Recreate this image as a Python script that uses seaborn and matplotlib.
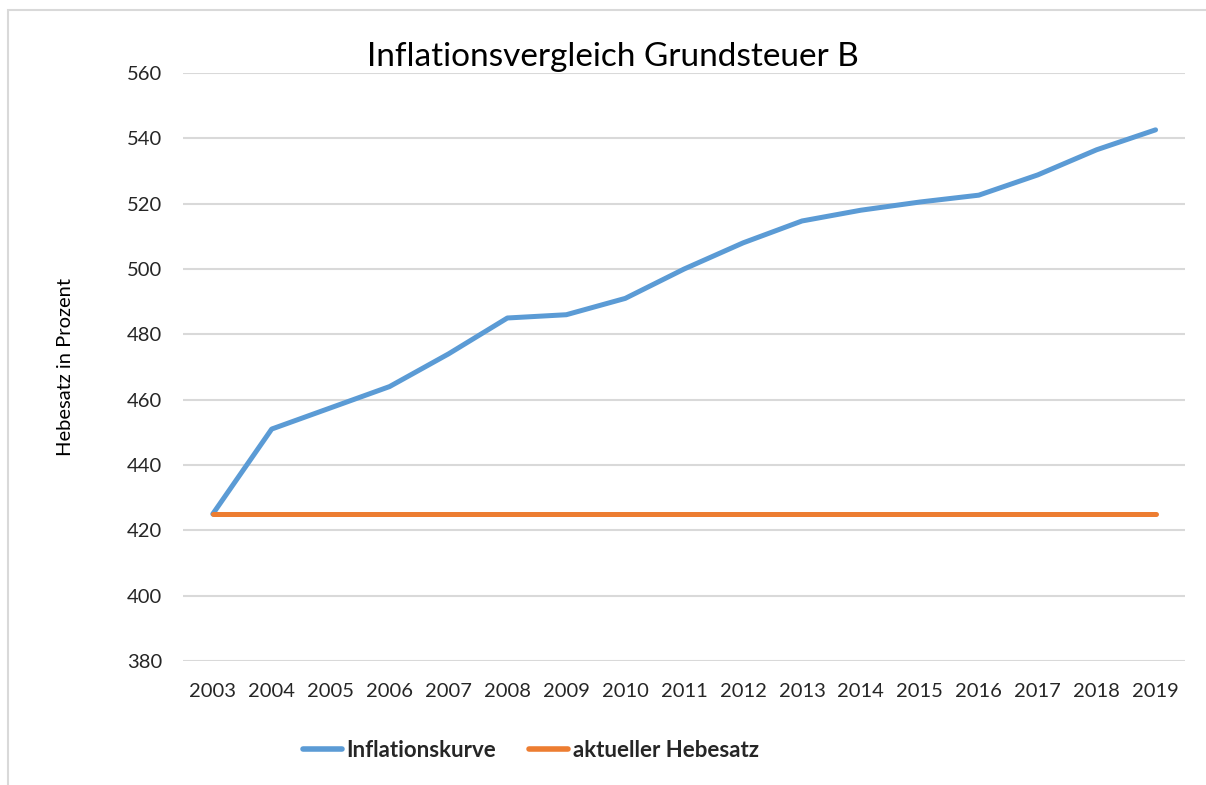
import pandas as pd
import numpy as np
import matplotlib
matplotlib.use("Agg")
import matplotlib.pyplot as plt
import seaborn as sns
from matplotlib.patches import Rectangle

years = list(range(2003, 2020))
inflation = [425, 451, 457.5, 464, 474, 485, 486, 491, 500, 508, 514.7, 518, 520.5, 522.6, 528.8, 536.5, 542.6]
current = [425] * 17
series_names = ['Inflationskurve', 'aktueller Hebesatz']

df = pd.DataFrame({
    'Jahr': list(range(17)) * 2,
    'Wert': inflation + current,
    'Reihe': [series_names[0]] * 17 + [series_names[1]] * 17,
})

sns.set_style("white")
plt.rcParams['font.family'] = ['Lato', 'DejaVu Sans']

fig = plt.figure(figsize=(12.06, 7.85), dpi=100)
ax = fig.add_axes([0.152, 0.158, 0.8306, 0.749])

sns.lineplot(data=df, x='Jahr', y='Wert', hue='Reihe',
             palette=['#5B9BD5', '#ED7D31'], linewidth=3.6,
             solid_capstyle='round', ax=ax, legend=False)

ax.set_xlim(-0.5, 16.5)
ax.set_ylim(380, 560)
ax.set_yticks(np.arange(380, 561, 20))
ax.set_xticks(range(17))
ax.set_xticklabels([str(y) for y in years])
ax.tick_params(axis='both', labelsize=14.5, colors='#262626', length=0)
ax.tick_params(axis='x', pad=16)
ax.tick_params(axis='y', pad=15)
ax.grid(axis='y', color='#D9D9D9', linewidth=1.5)
ax.set_axisbelow(True)
for s in ax.spines.values():
    s.set_visible(False)
ax.set_xlabel('')
ax.set_ylabel('Hebesatz in Prozent', fontsize=14.5, color='#000000', labelpad=38)

fig.text(0.508, 0.928, 'Inflationsvergleich Grundsteuer B', ha='center', va='center',
         fontsize=24, color='#000000')

# legend
handles = [plt.Line2D([], [], color=c, linewidth=4, solid_capstyle='round')
           for c in ['#5B9BD5', '#ED7D31']]
leg = fig.legend(handles, series_names, loc='center', bbox_to_anchor=(0.44, 0.044),
                 ncol=2, frameon=False, handlelength=1.75, handletextpad=0.2,
                 columnspacing=1.5, prop={'size': 16, 'weight': 'bold'})

# chart border
fig.patches.append(Rectangle((8 / 1206, -0.01), 1.2, 1 - 10 / 785 + 0.01,
                             transform=fig.transFigure, fill=False,
                             edgecolor='#D9D9D9', linewidth=1.5))

fig.savefig('out.png', dpi=100)
